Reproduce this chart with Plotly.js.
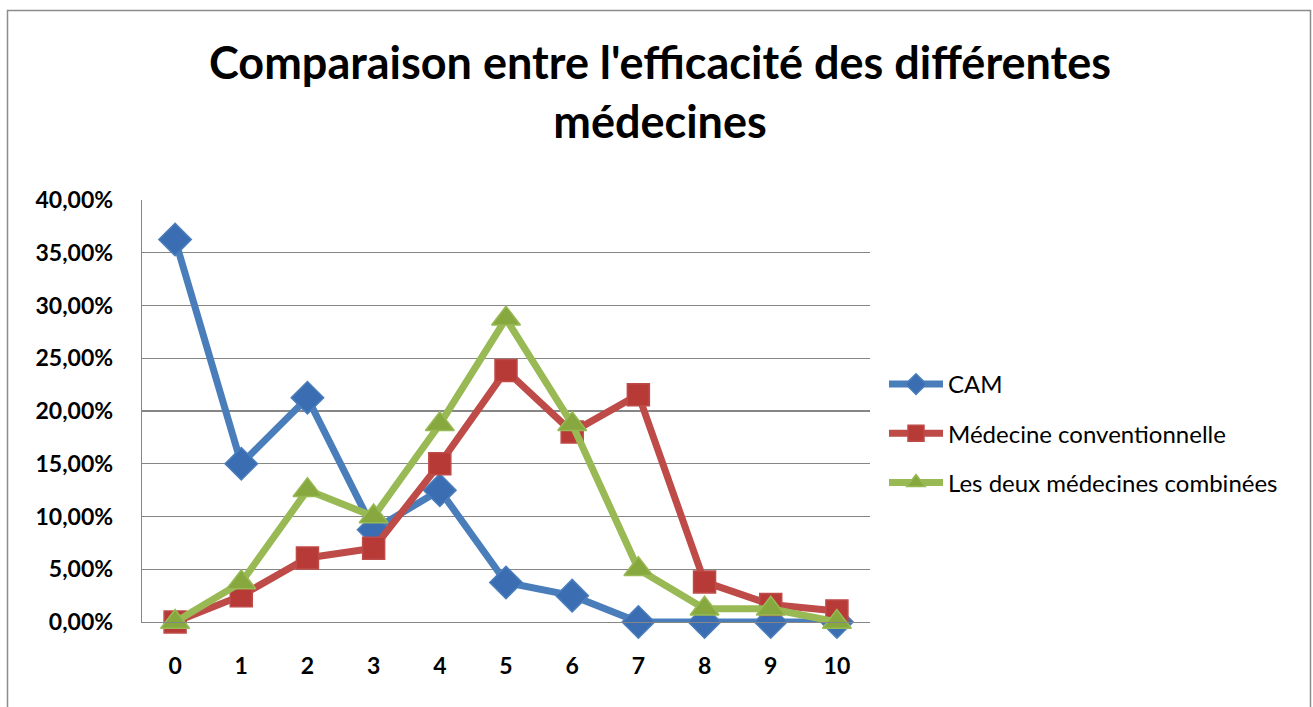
<!DOCTYPE html>
<html>
<head>
<meta charset="utf-8">
<script src="https://cdn.plot.ly/plotly-3.0.1.min.js"></script>
<style>html,body{margin:0;padding:0;background:#fff;}#chart{width:1313px;height:707px;}</style>
</head>
<body>
<div id="chart"></div>
<script>
var categories = [0, 1, 2, 3, 4, 5, 6, 7, 8, 9, 10];
var cam = [0.3625, 0.15, 0.2125, 0.0875, 0.125, 0.0375, 0.025, 0, 0, 0, 0];
var conventionnelle = [0, 0.025, 0.0607, 0.07, 0.15, 0.2385, 0.18, 0.2155, 0.038, 0.0165, 0.0105];
var combinees = [0, 0.0375, 0.125, 0.10, 0.1875, 0.2875, 0.1875, 0.05, 0.0125, 0.0125, 0];
var seriesNames = ["CAM", "Médecine conventionnelle", "Les deux médecines combinées"];
var yTicks = [0, 0.05, 0.10, 0.15, 0.20, 0.25, 0.30, 0.35, 0.40];

var W = 1313, H = 707;
var L = 142, R = 870, T = 200, B = 622;
var pw = R - L, ph = B - T;
function px(x){ return (x - L) / pw; }
function py(y){ return (B - y) / ph; }

var font = "Lato, 'Open Sans', sans-serif";

function trace(y, name, color, mcolor, symbol, size, group){
  return {
    x: categories, y: y, name: name, type: 'scatter', mode: 'lines+markers',
    legendgroup: group,
    line: {color: color, width: 7},
    marker: {symbol: symbol, size: size, color: mcolor, line: {color: color, width: 1.5}},
    cliponaxis: false
  };
}

var data = [
  trace(cam, seriesNames[0], '#4A7EBB', '#3B6DB3', 'diamond', 25, 'a'),
  trace(conventionnelle, seriesNames[1], '#BE4B48', '#B73A37', 'square', 22, 'b'),
  trace(combinees, seriesNames[2], '#98B954', '#86A83F', 'triangle-up', 25, 'c')
];

var layout = {
  width: W, height: H,
  margin: {l: L, r: W - R, t: T, b: H - B, pad: 0},
  paper_bgcolor: '#fff', plot_bgcolor: '#fff',
  separators: ', ',
  font: {family: font, color: '#000'},
  title: {
    text: "<b>Comparaison entre l'efficacité des différentes<br>médecines</b>",
    font: {family: font, size: 45, color: '#000'},
    x: 660 / W, xref: 'container', xanchor: 'center',
    y: 1 - 79 / H, yref: 'container', yanchor: 'top'
  },
  xaxis: {
    type: 'linear', range: [-0.5, 10.5], tickvals: categories,
    ticktext: categories.map(String),
    showgrid: false, zeroline: false,
    showline: true, linecolor: '#868686', linewidth: 1.3,
    ticks: '', ticklabelstandoff: 23,
    tickfont: {family: font, size: 23, color: '#000', weight: 'bold'},
    fixedrange: true
  },
  yaxis: {
    range: [0, 0.40], tickvals: yTicks, tickformat: '.2%',
    showgrid: true, gridcolor: '#868686', gridwidth: 1.3,
    zeroline: false,
    showline: true, linecolor: '#868686', linewidth: 1.3,
    ticks: '', ticklabelstandoff: 23,
    tickfont: {family: font, size: 23, color: '#000', weight: 'bold'},
    fixedrange: true
  },
  showlegend: true,
  legend: {
    x: px(884), xanchor: 'left', y: py(362), yanchor: 'top',
    font: {family: font, size: 24, color: '#000'},
    traceorder: 'grouped', tracegroupgap: 15,
    itemwidth: 54, bgcolor: 'rgba(0,0,0,0)', borderwidth: 0
  },
  shapes: [
    {type: 'rect', xref: 'paper', yref: 'paper',
     x0: px(7.5), x1: px(1310.5), y0: py(720), y1: py(10.5),
     line: {color: '#8C8C8C', width: 1.5}, fillcolor: 'rgba(0,0,0,0)', layer: 'below'}
  ]
};

Plotly.newPlot('chart', data, layout, {displayModeBar: false, staticPlot: true});
</script>
</body>
</html>
